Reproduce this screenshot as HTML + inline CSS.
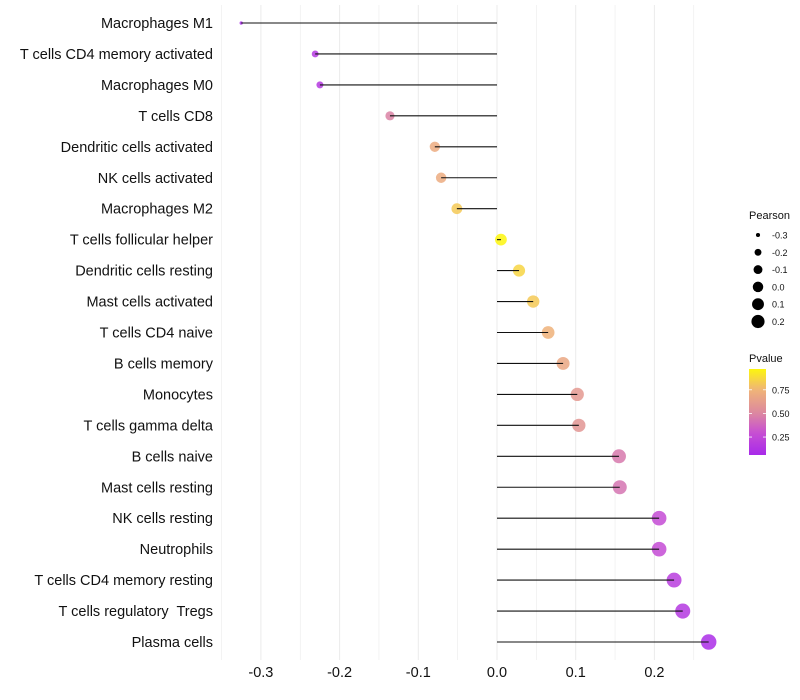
<!DOCTYPE html>
<html><head><meta charset="utf-8">
<style>
body{margin:0;background:#fff;}
svg{display:block;font-family:"Liberation Sans",Arial,sans-serif;}
text{white-space:pre;}
</style></head>
<body>
<svg id="chart" width="800" height="700"></svg>
<script>
const categories=["Macrophages M1","T cells CD4 memory activated","Macrophages M0","T cells CD8","Dendritic cells activated","NK cells activated","Macrophages M2","T cells follicular helper","Dendritic cells resting","Mast cells activated","T cells CD4 naive","B cells memory","Monocytes","T cells gamma delta","B cells naive","Mast cells resting","NK cells resting","Neutrophils","T cells CD4 memory resting","T cells regulatory  Tregs","Plasma cells"];
const pearson=[-0.325,-0.231,-0.225,-0.136,-0.079,-0.071,-0.051,0.005,0.028,0.046,0.065,0.084,0.102,0.104,0.155,0.156,0.206,0.206,0.225,0.236,0.269];
const pvalue=[0.07,0.15,0.16,0.48,0.7,0.7,0.82,0.97,0.86,0.82,0.74,0.68,0.6,0.58,0.45,0.43,0.27,0.27,0.18,0.15,0.09];
const xTicks=[-0.3,-0.2,-0.1,0.0,0.1,0.2];
const xTickLabels=["-0.3","-0.2","-0.1","0.0","0.1","0.2"];
const sizeLegend=[-0.3,-0.2,-0.1,0.0,0.1,0.2];
const sizeLegendLabels=["-0.3","-0.2","-0.1","0.0","0.1","0.2"];
const pLegendTicks=[0.25,0.5,0.75];
const pLegendLabels=["0.25","0.50","0.75"];

const NS="http://www.w3.org/2000/svg";
const svg=document.getElementById('chart');
const x=v=>497+v*787;
const y=i=>23+i*30.95;
const r=p=>Math.sqrt(Math.max(2,34+96*p));
const stops=[[0,[160,32,240]],[0.3,[200,80,210]],[0.5,[220,135,160]],[0.75,[240,180,120]],[1,[255,255,0]]];
function col(v){v=Math.max(0,Math.min(1,v));for(let k=1;k<stops.length;k++){if(v<=stops[k][0]){const a=stops[k-1],b=stops[k];const t=(v-a[0])/(b[0]-a[0]);const c=a[1].map((q,j)=>Math.round(q+(b[1][j]-q)*t));return `rgb(${c})`;}}return 'rgb(255,255,0)';}
function el(tag,attrs,text){const e=document.createElementNS(NS,tag);for(const k in attrs)e.setAttribute(k,attrs[k]);if(text!==undefined)e.textContent=text;svg.appendChild(e);return e;}

for(let g=-0.35;g<=0.27;g+=0.05){const gx=x(g);const e=el('line',{x1:gx,x2:gx,y1:5,y2:660,stroke:'#ebebeb','stroke-width':Math.abs(Math.round(g*100))%10===0?1:0.6});

}
xTicks.forEach((t,i)=>{const e=el('text',{x:x(t),y:677,'text-anchor':'middle','font-size':14.5,fill:'#111'},xTickLabels[i]);

});
categories.forEach((c,i)=>{
 const t=el('text',{x:213,y:y(i)+5,'text-anchor':'end','font-size':14.5,fill:'#111'},c);
 
 
 const pt=el('circle',{cx:x(pearson[i]),cy:y(i),r:r(pearson[i]),fill:col(pvalue[i]),'fill-opacity':0.85});
 
 
 const ln=el('line',{x1:x(0),x2:x(pearson[i]),y1:y(i),y2:y(i),stroke:'#111','stroke-width':1.1});
 
 
});
let lt=el('text',{x:749,y:219,'font-size':11,fill:'#111'},'Pearson');


sizeLegend.forEach((v,i)=>{const cy=235+i*17.3;
 const c=el('circle',{cx:758,cy:cy,r:r(v)*0.9,fill:'#000'});
 
 
 const t=el('text',{x:772,y:cy+3.5,'font-size':9,fill:'#111'},sizeLegendLabels[i]);
 
 });
lt=el('text',{x:749,y:362,'font-size':11,fill:'#111'},'Pvalue');


const defs=document.createElementNS(NS,'defs');svg.appendChild(defs);
const lg=document.createElementNS(NS,'linearGradient');lg.setAttribute('id','pg');lg.setAttribute('x1',0);lg.setAttribute('x2',0);lg.setAttribute('y1',1);lg.setAttribute('y2',0);defs.appendChild(lg);
const pMin=0.06,pMax=0.97;
for(let k=0;k<=20;k++){const v=pMin+(pMax-pMin)*k/20;const s=document.createElementNS(NS,'stop');s.setAttribute('offset',k/20);s.setAttribute('stop-color',col(v));lg.appendChild(s);}
const bar=el('rect',{x:749,y:369,width:17,height:86,fill:'url(#pg)'});


const py=v=>455-(v-pMin)/(pMax-pMin)*86;
pLegendTicks.forEach((v,i)=>{
 el('line',{x1:749,x2:752,y1:py(v),y2:py(v),stroke:'#fff','stroke-width':0.8});
 el('line',{x1:763,x2:766,y1:py(v),y2:py(v),stroke:'#fff','stroke-width':0.8});
 const t=el('text',{x:772,y:py(v)+3.5,'font-size':9,fill:'#111'},pLegendLabels[i]);
 
 });
</script>
</body></html>
